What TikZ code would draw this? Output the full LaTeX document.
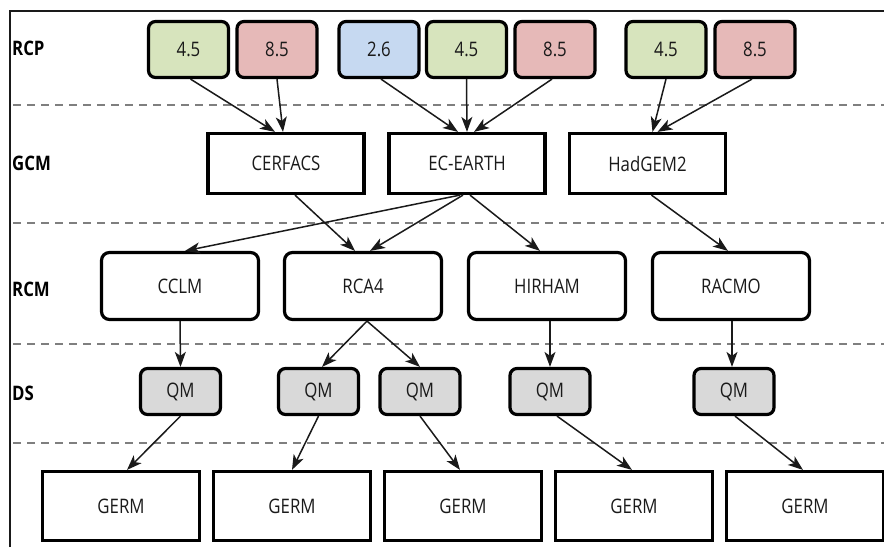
\documentclass[tikz,border=0pt]{standalone}
\usepackage{fontspec}
\setmainfont{Open Sans}
\usepackage{graphicx}
\usetikzlibrary{arrows.meta}

\definecolor{rcpgreen}{HTML}{D7E4BD}
\definecolor{rcpred}{HTML}{E6B9B8}
\definecolor{rcpblue}{HTML}{C6D9F1}
\definecolor{dsgray}{HTML}{D9D9D9}
\definecolor{sepgray}{HTML}{7F7F7F}
\definecolor{ink}{HTML}{1A1A1A}

% narrow text as in the original layout
\newcommand{\nt}[1]{\scalebox{0.84}[1]{#1}}

\tikzset{
  base/.style={draw=black, line width=3.2pt, inner sep=0pt, text=ink,
    font=\fontsize{20}{23}\selectfont},
  rcpbox/.style={base, rounded corners=7pt, minimum width=80pt, minimum height=56pt},
  gcmbox/.style={base, minimum width=156pt, minimum height=60pt},
  rcmbox/.style={base, rounded corners=8pt, minimum width=157pt, minimum height=67pt},
  dsbox/.style={base, rounded corners=7pt, fill=dsgray, minimum width=80pt, minimum height=46pt},
  germbox/.style={base, minimum width=157pt, minimum height=69pt},
  rowlabel/.style={anchor=west, inner sep=0pt, text=black,
    font=\fontsize{20}{22}\selectfont\bfseries},
  sep/.style={draw=sepgray, line width=1.8pt, dash pattern=on 8pt off 6pt},
  link/.style={draw=ink, line width=1.5pt, -{Stealth[length=15pt,width=11pt,inset=4pt]}},
}

\begin{document}
\begin{tikzpicture}[x=1pt, y=-1pt]
\useasboundingbox (0,0) rectangle (884,547);

% frame
\draw[line width=1.5pt, draw=ink] (10,547) -- (10,11) -- (884,11);

% level separators
\foreach \yy in {105,223,344,443}
  \draw[sep] (13,\yy) -- (884,\yy);

% row labels
\node[rowlabel] (lrcp) at (12,48) {\nt{RCP}};
\node[rowlabel] (lgcm) at (12,163) {\nt{GCM}};
\node[rowlabel] (lrcm) at (12,289) {\nt{RCM}};
\node[rowlabel] (lds)  at (12,393) {\nt{DS}};

% RCP scenarios
\node[rcpbox, fill=rcpgreen] (r1) at (188.5,49.5) {\nt{4.5}};
\node[rcpbox, fill=rcpred]   (r2) at (277,49.5)   {\nt{8.5}};
\node[rcpbox, fill=rcpblue]  (r3) at (379,49.5)   {\nt{2.6}};
\node[rcpbox, fill=rcpgreen] (r4) at (466.5,49.5) {\nt{4.5}};
\node[rcpbox, fill=rcpred]   (r5) at (555,49.5)   {\nt{8.5}};
\node[rcpbox, fill=rcpgreen] (r6) at (666,49.5)   {\nt{4.5}};
\node[rcpbox, fill=rcpred]   (r7) at (755,49.5)   {\nt{8.5}};

% global models
\node[gcmbox] (g1) at (286,163.5)   {\nt{CERFACS}};
\node[gcmbox] (g2) at (467,163.5)   {\nt{EC-EARTH}};
\node[gcmbox] (g3) at (647.5,163.5) {\nt{HadGEM2}};

% regional models
\node[rcmbox] (m1) at (180,286) {\nt{CCLM}};
\node[rcmbox] (m2) at (363,286) {\nt{RCA4}};
\node[rcmbox] (m3) at (547,286) {\nt{HIRHAM}};
\node[rcmbox] (m4) at (731,286) {\nt{RACMO}};

% downscaling
\node[dsbox] (q1) at (180.5,391.5) {\nt{QM}};
\node[dsbox] (q2) at (318.5,391.5) {\nt{QM}};
\node[dsbox] (q3) at (420,391.5)   {\nt{QM}};
\node[dsbox] (q4) at (550,391.5)   {\nt{QM}};
\node[dsbox] (q5) at (734,391.5)   {\nt{QM}};

% impact model runs
\node[germbox] (e1) at (121,506) {\nt{GERM}};
\node[germbox] (e2) at (292,506) {\nt{GERM}};
\node[germbox] (e3) at (463,506) {\nt{GERM}};
\node[germbox] (e4) at (634,506) {\nt{GERM}};
\node[germbox] (e5) at (805,506) {\nt{GERM}};

% RCP -> GCM
\draw[link] ([xshift=2]r1.south)  -- ([xshift=-11]g1.north);
\draw[link] (r2.south)            -- ([xshift=-3]g1.north);
\draw[link] ([xshift=2]r3.south)  -- ([xshift=-9]g2.north);
\draw[link] (r4.south)            -- (g2.north);
\draw[link] ([xshift=-3]r5.south) -- ([xshift=7]g2.north);
\draw[link] (r6.south)            -- ([xshift=5]g3.north);
\draw[link] ([xshift=-3]r7.south) -- ([xshift=10]g3.north);

% GCM -> RCM
\draw[link] ([xshift=9]g1.south)  -- ([xshift=-8]m2.north);
\draw[link] ([xshift=-7]g2.south) -- ([xshift=5]m1.north);
\draw[link] ([xshift=-4]g2.south) -- ([xshift=7]m2.north);
\draw[link] ([xshift=3]g2.south)  -- ([xshift=-7]m3.north);
\draw[link] ([xshift=4]g3.south)  -- ([xshift=-3]m4.north);

% RCM -> DS
\draw[link] (m1.south)           -- (q1.north);
\draw[link] ([xshift=4]m2.south) -- ([xshift=3.5]q2.north);
\draw[link] ([xshift=4]m2.south) -- (q3.north);
\draw[link] ([xshift=3]m3.south) -- (q4.north);
\draw[link] ([xshift=1]m4.south) -- ([xshift=-2]q5.north);

% DS -> GERM
\draw[link] (q1.south)           -- ([xshift=6]e1.north);
\draw[link] (q2.south)           -- (e2.north);
\draw[link] (q3.south)           -- ([xshift=-3]e3.north);
\draw[link] ([xshift=7]q4.south) -- ([xshift=-2]e4.north);
\draw[link] ([xshift=1]q5.south) -- ([xshift=-2]e5.north);
\end{tikzpicture}
\end{document}
